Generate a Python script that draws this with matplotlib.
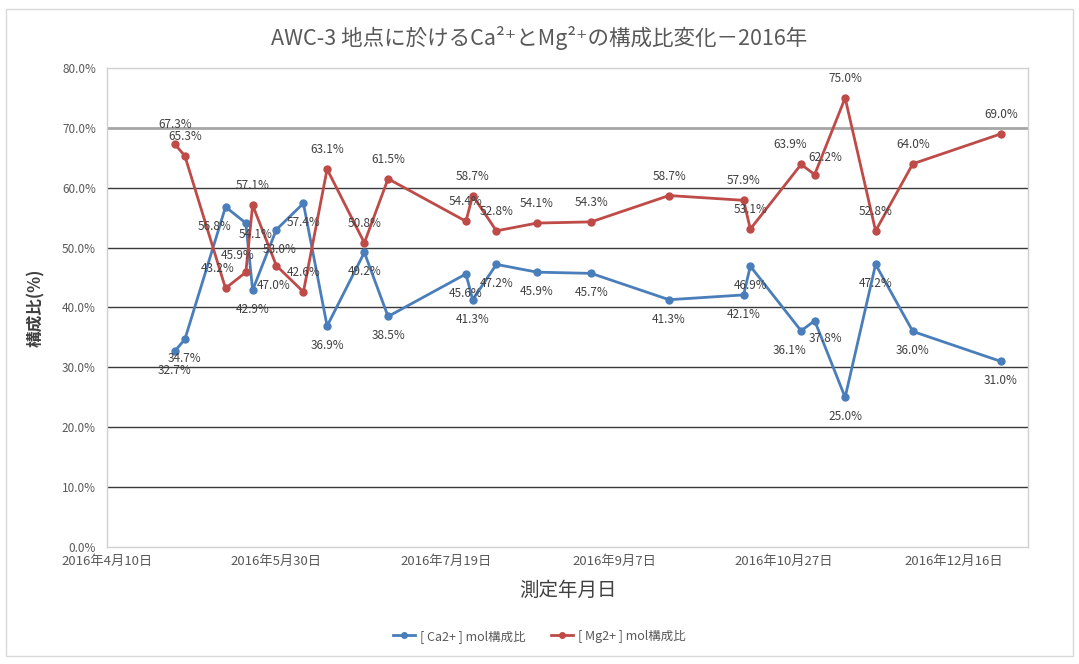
import datetime as dt

import matplotlib
matplotlib.use("Agg")
import matplotlib.pyplot as plt
import matplotlib.patches as patches
from matplotlib.ticker import FuncFormatter, MultipleLocator

plt.rcParams['font.family'] = ['Noto Sans CJK JP', 'DejaVu Sans']

# sampling dates (2016)
dates = [
    "2016-04-30", "2016-05-03", "2016-05-15", "2016-05-21", "2016-05-23",
    "2016-05-30", "2016-06-07", "2016-06-14", "2016-06-25", "2016-07-02",
    "2016-07-25", "2016-07-27", "2016-08-03", "2016-08-15", "2016-08-31",
    "2016-09-23", "2016-10-15", "2016-10-17", "2016-11-01", "2016-11-05",
    "2016-11-14", "2016-11-23", "2016-12-04", "2016-12-30",
]
ca_ratio = [32.7, 34.7, 56.8, 54.1, 42.9, 53.0, 57.4, 36.9, 49.2, 38.5,
            45.6, 41.3, 47.2, 45.9, 45.7, 41.3, 42.1, 46.9, 36.1, 37.8,
            25.0, 47.2, 36.0, 31.0]
mg_ratio = [67.3, 65.3, 43.2, 45.9, 57.1, 47.0, 42.6, 63.1, 50.8, 61.5,
            54.4, 58.7, 52.8, 54.1, 54.3, 58.7, 57.9, 53.1, 63.9, 62.2,
            75.0, 52.8, 64.0, 69.0]
tick_dates = ["2016-04-10", "2016-05-30", "2016-07-19", "2016-09-07",
              "2016-10-27", "2016-12-16"]

x = [dt.datetime.strptime(d, "%Y-%m-%d") for d in dates]
ticks = [dt.datetime.strptime(d, "%Y-%m-%d") for d in tick_dates]

blue = "#4A7EBB"
red = "#BE4B48"
text_grey = "#595959"

fig = plt.figure(figsize=(10.79, 6.64), dpi=100)
ax = fig.add_axes([0.0992, 0.1762, 0.8535, 0.7214])

# outer chart border
fig.patches.append(patches.Rectangle((0.006, 0.012), 0.988, 0.975, transform=fig.transFigure,
                                     fill=False, edgecolor="#d9d9d9", linewidth=1))

for v in range(10, 80, 10):
    if v == 70:
        ax.axhline(v, color="#a6a6a6", linewidth=2.0, zorder=1)
    else:
        ax.axhline(v, color="#3a3a3a", linewidth=1.0, zorder=1)

ax.plot(x, ca_ratio, color=blue, linewidth=2.0, marker="o", markersize=5, zorder=3,
        label="[ Ca2+ ] mol構成比")
ax.plot(x, mg_ratio, color=red, linewidth=2.0, marker="o", markersize=5, zorder=3,
        label="[ Mg2+ ] mol構成比")

# data labels: Ca below the points, Mg above; offsets in points,
# a few moved aside where neighbouring points crowd together
ca_off = {2: (-8, -14), 3: (7, -8), 5: (2, -14), 18: (-8, -14), 19: (8, -13)}
mg_off = {2: (-6, 14), 3: (-6, 12), 5: (-2, -14), 18: (-8, 14), 19: (8, 12)}
for i, (xi, v) in enumerate(zip(x, ca_ratio)):
    ax.annotate(f"{v:.1f}%", (xi, v), xytext=ca_off.get(i, (0, -14)), textcoords="offset points",
                ha="center", va="center", fontsize=8.5, color="#404040", zorder=4)
for i, (xi, v) in enumerate(zip(x, mg_ratio)):
    ax.annotate(f"{v:.1f}%", (xi, v), xytext=mg_off.get(i, (0, 14)), textcoords="offset points",
                ha="center", va="center", fontsize=8.5, color="#404040", zorder=4)

ax.set_ylim(0, 80)
ax.yaxis.set_major_locator(MultipleLocator(10))
ax.yaxis.set_major_formatter(FuncFormatter(lambda v, p: f"{v:.1f}%"))
ax.set_xlim(dt.datetime(2016, 4, 10), dt.datetime(2017, 1, 7))
ax.set_xticks(ticks)
ax.set_xticklabels([f"{t.year}年{t.month}月{t.day}日" for t in ticks])
ax.tick_params(axis="y", length=0, labelsize=8.5, labelcolor=text_grey, pad=8)
ax.tick_params(axis="x", length=0, labelsize=9.5, labelcolor=text_grey, pad=6)

for s in ax.spines.values():
    s.set_color("#d0d0d0")
    s.set_linewidth(1)

fig.text(0.5, 0.943, "AWC-3 地点に於けるCa²⁺とMg²⁺の構成比変化－2016年",
         ha="center", va="center", fontsize=15.5, color=text_grey)
ax.set_ylabel("構成比(%)", fontsize=12, color="#404040", labelpad=12, fontweight="bold")
ax.set_xlabel("測定年月日", fontsize=14, color="#404040", labelpad=8)

fig.legend(loc="center", bbox_to_anchor=(0.5, 0.042), ncol=2, frameon=False,
           fontsize=9, labelcolor=text_grey, handlelength=1.8, handletextpad=0.4,
           columnspacing=2.0, markerscale=0.8)

plt.savefig("out.png", dpi=100)
